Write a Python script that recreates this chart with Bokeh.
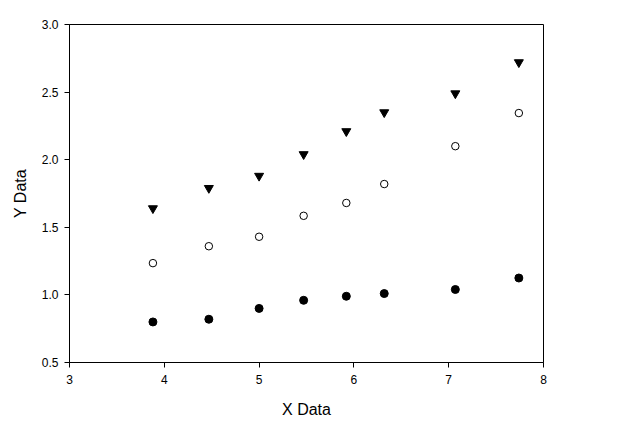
from bokeh.plotting import figure
from bokeh.models import Range1d, FixedTicker, NumeralTickFormatter
from bokeh.embed import file_html
from bokeh.resources import INLINE

x_vals = [3.88, 4.47, 5.0, 5.47, 5.92, 6.32, 7.07, 7.74]
filled_y = [0.80, 0.82, 0.90, 0.96, 0.99, 1.01, 1.04, 1.125]
open_y = [1.235, 1.36, 1.43, 1.585, 1.68, 1.82, 2.10, 2.345]
tri_y = [1.64, 1.79, 1.88, 2.04, 2.21, 2.35, 2.49, 2.72]

x_ticks = [3, 4, 5, 6, 7, 8]
y_ticks = [0.5, 1.0, 1.5, 2.0, 2.5, 3.0]

p = figure(width=620, height=420, output_backend="svg", toolbar_location=None,
           x_range=Range1d(3, 8), y_range=Range1d(0.5, 3.0),
           min_border_left=69, min_border_right=77, min_border_top=24, min_border_bottom=54)
p.xgrid.visible = False
p.ygrid.visible = False
p.outline_line_color = "black"
p.outline_line_width = 1
p.background_fill_color = "white"
p.border_fill_color = "white"

for ax in (p.xaxis[0], p.yaxis[0]):
    ax.axis_line_color = "black"
    ax.major_tick_line_color = "black"
    ax.major_tick_out = 5
    ax.major_tick_in = 0
    ax.minor_tick_line_color = None
    ax.major_label_text_font = "Liberation Sans"
    ax.major_label_text_font_size = "12px"
    ax.major_label_text_color = "black"
    ax.axis_label_text_font = "Liberation Sans"
    ax.axis_label_text_font_size = "16px"
    ax.axis_label_text_font_style = "normal"
    ax.axis_label_text_color = "black"

p.xaxis.ticker = FixedTicker(ticks=x_ticks)
p.yaxis.ticker = FixedTicker(ticks=y_ticks)
p.yaxis.formatter = NumeralTickFormatter(format="0.0")
p.xaxis.axis_label = "X Data"
p.yaxis.axis_label = "Y Data"
p.xaxis.major_label_standoff = 7
p.yaxis.major_label_standoff = 6
p.xaxis.axis_label_standoff = 14
p.yaxis.axis_label_standoff = 10

p.scatter(x_vals, filled_y, marker="circle", size=8, fill_color="black", line_color="black")
p.scatter(x_vals, open_y, marker="circle", size=7.5, fill_color="white", line_color="black", line_width=1)
p.scatter(x_vals, tri_y, marker="inverted_triangle", size=9, fill_color="black", line_color="black")

open("out.html", "w").write(file_html(p, INLINE))
